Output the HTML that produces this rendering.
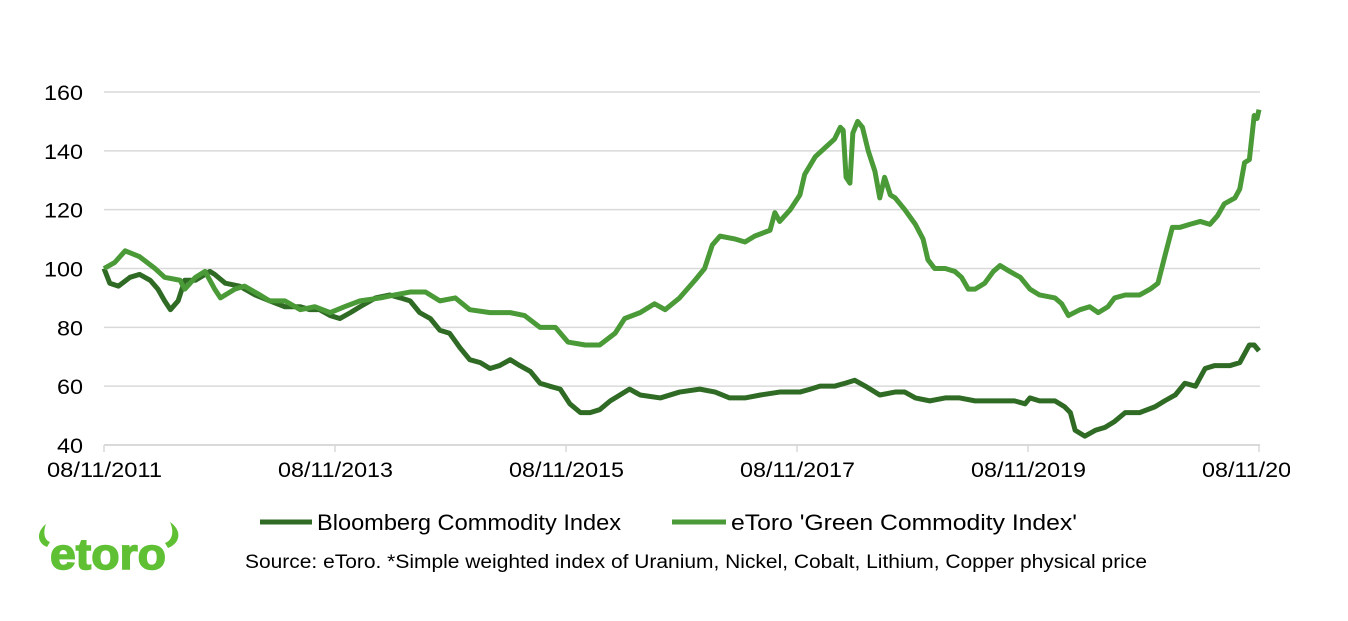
<!DOCTYPE html>
<html><head><meta charset="utf-8"><style>
body{margin:0;background:#fff;width:1348px;height:621px;overflow:hidden;font-family:"Liberation Sans",Arial,sans-serif}
svg{position:absolute;left:0;top:0}
</style></head><body>
<svg width="1348" height="621" id="c"></svg>
<script>
const yTicks=[40,60,80,100,120,140,160];
const xLabels=["08/11/2011","08/11/2013","08/11/2015","08/11/2017","08/11/2019","08/11/2021"];
const greenMonths=[0,1.1,2.2,3.7,5.3,6.3,7.9,8.4,9.5,10.5,11.5,12.1,13.6,14.6,16.2,17.2,18.8,20.4,21.9,23.5,25,26.6,28.7,30.2,31.8,33.4,34.9,36.5,38,40.1,42.2,43.7,45.3,46.9,48.2,50,51.5,53.1,54.1,55.7,57.2,58.3,59.8,61.4,62.4,63.2,64,65.6,66.6,67.6,69.2,69.7,70.2,71.3,72.3,72.8,73.9,74.9,75.9,76.5,76.8,77.1,77.5,77.8,78.3,78.8,79.4,80.1,80.6,81.1,81.7,82.2,83.2,84.3,85.1,85.6,86.3,87.4,88.4,89.1,89.8,90.5,91.5,92.4,93.1,94.1,95.2,96.2,97.2,98.8,99.5,100.2,101.4,102.4,103.3,104.3,105,106.1,107.6,108.7,109.5,110.2,111,111.8,112.8,113.9,114.9,115.7,116.4,117.5,118,118.5,119,119.5,119.8,120];
const greenValues=[100,102,106,104,100,97,96,93,97,99,93,90,93,94,91,89,89,86,87,85,87,89,90,91,92,92,89,90,86,85,85,84,80,80,75,74,74,78,83,85,88,86,90,96,100,108,111,110,109,111,113,119,116,120,125,132,138,141,144,148,147,131,129,146,150,148,140,133,124,131,125,124,120,115,110,103,100,100,99,97,93,93,95,99,101,99,97,93,91,90,88,84,86,87,85,87,90,91,91,93,95,104,114,114,115,116,115,118,122,124,127,136,137,152,151,154];
const bbgMonths=[0,0.6,1.5,2.7,3.7,4.8,5.6,6.3,6.9,7.7,8.4,9.5,11,11.5,12.6,14.1,15.7,17.2,18.8,20.4,21.4,22.4,23.5,24.5,25.6,26.6,28.2,29.7,30.8,31.8,32.8,33.9,34.9,35.9,37,38,39.1,40.1,41.1,42.2,43.2,44.3,45.3,46.3,47.4,48.4,49.5,50.5,51.5,52.6,53.6,54.6,55.7,57.8,59.8,61.9,63.5,65,66.6,68.2,70.2,72.3,73.4,74.4,75.9,77,78,79.1,80.6,82.2,83.2,84.3,85.8,87.4,88.9,90.5,92.1,93.6,94.6,95.7,96.2,97.2,98.8,99.8,100.4,100.9,101.9,103,104,105,106.1,107.6,109.2,110.2,111.3,112.3,113.4,114.4,115.4,117,118,119,119.5,120];
const bbgValues=[100,95,94,97,98,96,93,89,86,89,96,96,99,98,95,94,91,89,87,87,86,86,84,83,85,87,90,91,90,89,85,83,79,78,73,69,68,66,67,69,67,65,61,60,59,54,51,51,52,55,57,59,57,56,58,59,58,56,56,57,58,58,59,60,60,61,62,60,57,58,58,56,55,56,56,55,55,55,55,54,56,55,55,53,51,45,43,45,46,48,51,51,53,55,57,61,60,66,67,67,68,74,74,72];
const NS="http://www.w3.org/2000/svg",svg=document.getElementById('c');
const X=m=>104+m*(1155/120), Y=v=>445-(v-40)*(353/120);
function mk(t,a){const e=document.createElementNS(NS,t);for(const k in a)e.setAttribute(k,a[k]);svg.appendChild(e);return e;}
yTicks.forEach(v=>{
 const l=mk('line',{x1:104,x2:1260,y1:Y(v),y2:Y(v),stroke:'#d9d9d9','stroke-width':v==40?2:1.5});
 
 
 const t=mk('text',{x:83,y:Y(v)+8,'text-anchor':'end','font-size':21,fill:'#000',textLength:String(v).length*13,lengthAdjust:'spacingAndGlyphs'});t.textContent=v;
 
 
});
xLabels.forEach((s,i)=>{
 const x=X(i*24);
 const tk=mk('line',{x1:x,x2:x,y1:445,y2:452,stroke:'#d9d9d9','stroke-width':1.5});
 
 
 const t=mk('text',{x:x-57,y:477,'font-size':21,fill:'#000',textLength:115,lengthAdjust:'spacingAndGlyphs'});t.textContent=s;
 
 
});
function line(ms,vs,col,name){
 const p=mk('polyline',{points:ms.map((m,i)=>X(m)+','+Y(vs[i])).join(' '),fill:'none',stroke:col,'stroke-width':5,'stroke-linejoin':'round'});
 
 
}
line(bbgMonths,bbgValues,'#2f6b24','bloomberg-line');
line(greenMonths,greenValues,'#4a9a38','green-index-line');
</script>
<div style="position:absolute;left:1290px;top:440px;width:58px;height:60px;background:#fff"></div>
<svg width="1348" height="621" style="pointer-events:none">
<g font-size="22" font-family="Liberation Sans,Arial,sans-serif">
<line x1="260" x2="312" y1="522" y2="522" stroke="#2f6b24" stroke-width="5"/>
<text x="317" y="530" textLength="304" lengthAdjust="spacingAndGlyphs">Bloomberg Commodity Index</text>
<line x1="672" x2="726" y1="522" y2="522" stroke="#4a9a38" stroke-width="5"/>
<text x="731" y="530" textLength="346" lengthAdjust="spacingAndGlyphs">eToro 'Green Commodity Index'</text>
</g>
<text x="245" y="568" font-size="19" textLength="902" lengthAdjust="spacingAndGlyphs" font-family="Liberation Sans,Arial,sans-serif">Source: eToro. *Simple weighted index of Uranium, Nickel, Cobalt, Lithium, Copper physical price</text>
<g fill="#5fc034">
<path d="M46 524 C36 532 37 543 47 547 L50 542 C44 540 43 532 46 524Z"/>
<path d="M170 522 C182 530 181 543 168 548 L165 543 C173 540 174 531 170 522Z"/>
<text x="50" y="569" font-size="44" font-weight="bold" stroke="#5fc034" stroke-width="1.5" font-family="Liberation Sans,sans-serif" textLength="116" lengthAdjust="spacingAndGlyphs">etoro</text>
</g>
</svg>
</body></html>
